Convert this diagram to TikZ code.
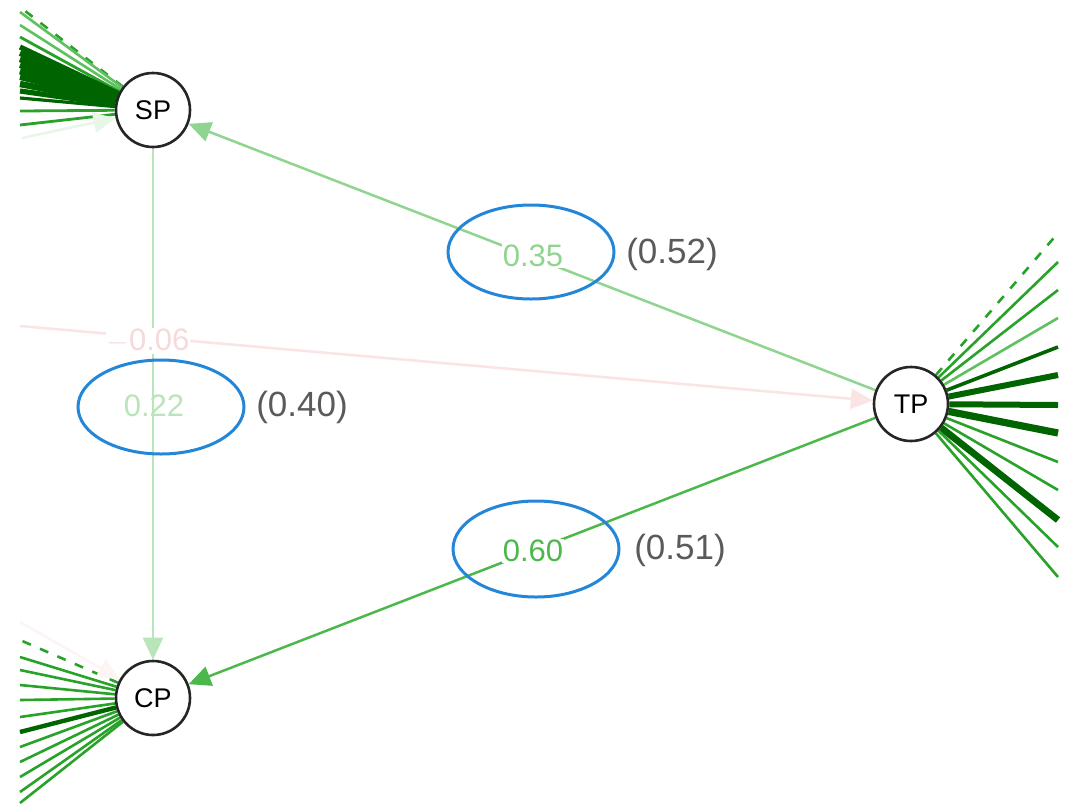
\documentclass[tikz,border=0pt]{standalone}
\usepackage{fontspec}
\setmainfont{Liberation Sans}
\usetikzlibrary{arrows.meta,backgrounds}
\definecolor{qgdark}{RGB}{0,100,0}
\definecolor{qgmid}{RGB}{40,162,40}
\definecolor{qglight}{RGB}{95,192,95}
\definecolor{qgsp}{RGB}{143,212,143}
\definecolor{qgsc}{RGB}{186,228,186}
\definecolor{qgtc}{RGB}{76,184,76}
\definecolor{qgpink}{RGB}{250,228,228}
\definecolor{qgpinktxt}{RGB}{246,218,218}
\definecolor{qgpale}{RGB}{232,246,232}
\definecolor{qgring}{RGB}{36,134,216}
\definecolor{qggray}{RGB}{90,90,90}
\tikzset{
  latent/.style={
    circle, draw=black!85, line width=1.3pt, fill=white,
    minimum size=37pt, inner sep=0pt, font=\fontsize{13.5}{13.5}\selectfont
  },
  reg/.style={line width=1.25pt, -{Triangle[length=11pt,width=10pt]}},
  fan/.style={line width=1.3pt, draw=qgmid},
  dfan/.style={fan, dash pattern=on 4.5pt off 5pt},
  coef/.style={inner sep=0.5pt, font=\fontsize{15.5}{15.5}\selectfont},
  stdz/.style={text=qggray, inner sep=0pt, font=\fontsize{17.5}{17.5}\selectfont},
  ring/.style={draw=qgring, line width=1.5pt},
  every picture/.append style={line cap=butt}
}

\begin{document}
\begin{tikzpicture}[x=0.5pt, y=-0.5pt]
  \useasboundingbox (0,0) rectangle (1065,804);
  \node[latent] (sp) at (153,110) {SP};
  \node[latent] (tp) at (911,404) {TP};
  \node[latent] (cp) at (153,698) {CP};
  \coordinate (inl) at (20,326);
  \coordinate (insp) at (22,138);
  \coordinate (incp) at (20,622);
  \begin{scope}[on background layer]
    \fill[white] (0,0) rectangle (1065,804);
    \draw[dfan] (sp) -- (20,7);
    \foreach \yy/\ww/\cc in {12/1.3/qglight,25/1.3/qglight,37/1.4/qgmid,
      47/2.6/qgdark,53/3/qgdark,59/3.2/qgdark,65/3/qgdark,71/3.4/qgdark,
      77/3/qgdark,84/3.2/qgdark,91/2.6/qgdark,98/1.6/qgdark,
      111/1.4/qgmid,125/1.4/qgmid}
      \draw[fan, line width=\ww pt, draw=\cc] (sp) -- (20,\yy);
    \draw[dfan] (tp) -- (1058,233);
    \foreach \yy/\ww/\cc in {262/1.3/qgmid,290/1.3/qgmid,318/1.3/qglight,
      347/1.8/qgdark,375/3/qgdark,405/3/qgdark,433/3.6/qgdark,
      462/1.3/qgmid,490/1.3/qgmid,520/3.4/qgdark,547/1.3/qgmid,577/1.3/qgmid}
      \draw[fan, line width=\ww pt, draw=\cc] (tp) -- (1058,\yy);
    \draw[dfan] (cp) -- (20,640);
    \foreach \yy/\ww/\cc in {657/1.3/qgmid,670/1.3/qgmid,685/1.3/qgmid,
      700/1.3/qgmid,717/1.3/qgmid,732/2.2/qgdark,747/1.3/qgmid,762/1.3/qgmid,
      777/1.3/qgmid,792/1.3/qgmid,803/1.3/qgmid}
      \draw[fan, line width=\ww pt, draw=\cc] (cp) -- (20,\yy);
    \draw[reg, qgpale] (insp) -- (sp);
    \draw[reg, qgpink!40] (incp) -- (cp);
    \draw[reg, qgsc] (sp) -- (cp);
    \draw[reg, qgpink] (inl) -- (tp);
    \draw[reg, qgsp] (tp) -- (sp);
    \draw[reg, qgtc] (tp) -- (cp);
    \node[coef, fill=white, text=qgpinktxt] (lst) at (148,341) {$-$0.06};
    \node[coef, text=qgsc] (lsc) at (154,406) {0.22};
    \node[coef, fill=white, text=qgsp] (ltsp) at (533,256) {0.35};
    \node[coef, fill=white, text=qgtc] (ltc) at (533,551) {0.60};
  \end{scope}
  \draw[ring] (531,252) ellipse [x radius=41.5pt, y radius=23.5pt];
  \draw[ring] (161,407) ellipse [x radius=41.5pt, y radius=23.5pt];
  \draw[ring] (536,549) ellipse [x radius=41.5pt, y radius=24pt];
  \node[stdz] (ssp) at (672,254) {(0.52)};
  \node[stdz] (ssc) at (302,407) {(0.40)};
  \node[stdz] (stc) at (680,550) {(0.51)};
\end{tikzpicture}
\end{document}
